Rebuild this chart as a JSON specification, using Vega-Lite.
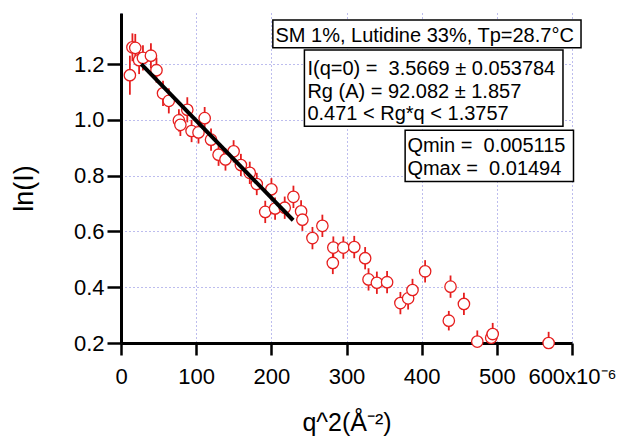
{
  "$schema": "https://vega.github.io/schema/vega-lite/v6.json",
  "width": 451,
  "height": 330,
  "autosize": {"type": "none"},
  "padding": {"left": 121, "top": 13, "right": 65, "bottom": 98},
  "background": "white",
  "config": {"view": {"stroke": null}, "font": "Liberation Sans"},
  "datasets": {
    "pts": [
      {"q2": 11.8, "lnI": 1.160, "err": 0.07},
      {"q2": 15.2, "lnI": 1.260, "err": 0.05},
      {"q2": 19.0, "lnI": 1.258, "err": 0.05},
      {"q2": 24.1, "lnI": 1.214, "err": 0.05},
      {"q2": 29.2, "lnI": 1.222, "err": 0.045},
      {"q2": 39.8, "lnI": 1.230, "err": 0.045},
      {"q2": 47.2, "lnI": 1.178, "err": 0.045},
      {"q2": 55.9, "lnI": 1.095, "err": 0.045},
      {"q2": 63.6, "lnI": 1.068, "err": 0.045},
      {"q2": 77.0, "lnI": 0.998, "err": 0.04},
      {"q2": 79.0, "lnI": 0.982, "err": 0.04},
      {"q2": 88.2, "lnI": 1.036, "err": 0.045},
      {"q2": 93.9, "lnI": 0.960, "err": 0.04},
      {"q2": 103.1, "lnI": 0.955, "err": 0.04},
      {"q2": 111.3, "lnI": 1.006, "err": 0.04},
      {"q2": 119.8, "lnI": 0.929, "err": 0.04},
      {"q2": 129.8, "lnI": 0.875, "err": 0.04},
      {"q2": 139.0, "lnI": 0.858, "err": 0.04},
      {"q2": 149.8, "lnI": 0.887, "err": 0.04},
      {"q2": 159.5, "lnI": 0.838, "err": 0.04},
      {"q2": 171.3, "lnI": 0.810, "err": 0.04},
      {"q2": 180.6, "lnI": 0.770, "err": 0.04},
      {"q2": 200.1, "lnI": 0.751, "err": 0.04},
      {"q2": 191.9, "lnI": 0.670, "err": 0.04},
      {"q2": 205.0, "lnI": 0.682, "err": 0.04},
      {"q2": 217.8, "lnI": 0.685, "err": 0.04},
      {"q2": 229.4, "lnI": 0.724, "err": 0.04},
      {"q2": 239.6, "lnI": 0.672, "err": 0.04},
      {"q2": 241.3, "lnI": 0.642, "err": 0.04},
      {"q2": 254.7, "lnI": 0.576, "err": 0.04},
      {"q2": 267.9, "lnI": 0.620, "err": 0.04},
      {"q2": 282.5, "lnI": 0.542, "err": 0.04},
      {"q2": 281.8, "lnI": 0.487, "err": 0.04},
      {"q2": 295.8, "lnI": 0.542, "err": 0.04},
      {"q2": 310.3, "lnI": 0.544, "err": 0.04},
      {"q2": 324.8, "lnI": 0.504, "err": 0.04},
      {"q2": 329.3, "lnI": 0.428, "err": 0.04},
      {"q2": 340.4, "lnI": 0.416, "err": 0.04},
      {"q2": 354.0, "lnI": 0.418, "err": 0.04},
      {"q2": 371.7, "lnI": 0.343, "err": 0.04},
      {"q2": 382.0, "lnI": 0.360, "err": 0.04},
      {"q2": 387.8, "lnI": 0.390, "err": 0.04},
      {"q2": 404.6, "lnI": 0.457, "err": 0.04},
      {"q2": 438.4, "lnI": 0.402, "err": 0.04},
      {"q2": 456.2, "lnI": 0.340, "err": 0.04},
      {"q2": 436.1, "lnI": 0.280, "err": 0.035},
      {"q2": 474.0, "lnI": 0.205, "err": 0.04},
      {"q2": 492.5, "lnI": 0.219, "err": 0.035},
      {"q2": 494.5, "lnI": 0.232, "err": 0.04},
      {"q2": 568.9, "lnI": 0.200, "err": 0.04}
    ],
    "fit": [
      {"q2": 27.0, "lnI": 1.200},
      {"q2": 229.0, "lnI": 0.640}
    ]
  },
  "layer": [
    {
      "data": {"name": "pts"},
      "transform": [
        {"calculate": "datum.lnI - datum.err", "as": "lo"},
        {"calculate": "datum.lnI + datum.err", "as": "hi"}
      ],
      "mark": {"type": "rule", "color": "#e61e1e", "strokeWidth": 1.8, "clip": true},
      "encoding": {
        "x": {
          "field": "q2", "type": "quantitative",
          "scale": {"domain": [0, 600], "nice": false, "zero": false},
          "axis": {
            "title": "q^2(Å⁻²)",
            "values": [0, 100, 200, 300, 400, 500, 600],
            "format": "d",
            "labelExpr": "datum.value == 600 ? '600x10⁻⁶' : datum.label",
            "labelFlush": false,
            "labelOverlap": false,
            "labelFontSize": 22,
            "labelColor": "black",
            "labelPadding": 11,
            "tickSize": 12,
            "tickWidth": 2.5,
            "tickColor": "black",
            "domainColor": "black",
            "domainWidth": 3,
            "grid": true,
            "gridColor": "#7b7bdc",
            "gridDash": [1, 3],
            "gridWidth": 1,
            "titleFontSize": 25,
            "titleFontWeight": "normal",
            "titleColor": "black",
            "titleY": 87,
            "titleBaseline": "alphabetic"
          }
        },
        "y": {
          "field": "lo", "type": "quantitative",
          "scale": {"domain": [0.2, 1.383], "nice": false, "zero": false},
          "axis": {
            "title": "ln(I)",
            "values": [0.2, 0.4, 0.6, 0.8, 1.0, 1.2],
            "format": ".1f",
            "labelFontSize": 22,
            "labelColor": "black",
            "labelPadding": 3,
            "tickSize": 14,
            "tickWidth": 2.5,
            "tickColor": "black",
            "domainColor": "black",
            "domainWidth": 3,
            "grid": true,
            "gridColor": "#7b7bdc",
            "gridDash": [1, 3],
            "gridWidth": 1,
            "titleFontSize": 27,
            "titleFontWeight": "normal",
            "titleColor": "black",
            "titleAngle": -90,
            "titleX": -97,
            "titleY": 175,
            "titleAlign": "center",
            "titleBaseline": "middle"
          }
        },
        "y2": {"field": "hi"}
      }
    },
    {
      "data": {"name": "pts"},
      "mark": {"type": "point", "shape": "circle", "filled": true, "fill": "white", "stroke": "#e61e1e", "strokeWidth": 1.3, "size": 130, "opacity": 1},
      "encoding": {
        "x": {"field": "q2", "type": "quantitative"},
        "y": {"field": "lnI", "type": "quantitative"}
      }
    },
    {
      "data": {"name": "fit"},
      "mark": {"type": "line", "color": "black", "strokeWidth": 4},
      "encoding": {
        "x": {"field": "q2", "type": "quantitative"},
        "y": {"field": "lnI", "type": "quantitative"}
      }
    },
    {
      "data": {"values": [{}]},
      "mark": {"type": "rect", "fill": "white", "stroke": "black", "strokeWidth": 1.5},
      "encoding": {
        "x": {"datum": 202}, "x2": {"datum": 612},
        "y": {"datum": 1.358}, "y2": {"datum": 1.258}
      }
    },
    {
      "data": {"values": [{}]},
      "mark": {"type": "rect", "fill": "white", "stroke": "black", "strokeWidth": 1.5},
      "encoding": {
        "x": {"datum": 244}, "x2": {"datum": 588},
        "y": {"datum": 1.250}, "y2": {"datum": 0.977}
      }
    },
    {
      "data": {"values": [{}]},
      "mark": {"type": "rect", "fill": "white", "stroke": "black", "strokeWidth": 1.5},
      "encoding": {
        "x": {"datum": 378}, "x2": {"datum": 602},
        "y": {"datum": 0.963}, "y2": {"datum": 0.779}
      }
    },
    {
      "data": {"values": [{}]},
      "mark": {"type": "text", "align": "left", "baseline": "alphabetic", "fontSize": 20, "color": "black"},
      "encoding": {"x": {"datum": 205.5}, "y": {"datum": 1.279}, "text": {"value": "SM 1%, Lutidine 33%, Tp=28.7°C"}}
    },
    {
      "data": {"values": [{}]},
      "mark": {"type": "text", "align": "left", "baseline": "alphabetic", "fontSize": 20, "color": "black"},
      "encoding": {"x": {"datum": 248}, "y": {"datum": 1.160}, "text": {"value": "I(q=0) =\u00a0 3.5669 ± 0.053784"}}
    },
    {
      "data": {"values": [{}]},
      "mark": {"type": "text", "align": "left", "baseline": "alphabetic", "fontSize": 20, "color": "black"},
      "encoding": {"x": {"datum": 248}, "y": {"datum": 1.078}, "text": {"value": "Rg (A) = 92.082 ± 1.857"}}
    },
    {
      "data": {"values": [{}]},
      "mark": {"type": "text", "align": "left", "baseline": "alphabetic", "fontSize": 20, "color": "black"},
      "encoding": {"x": {"datum": 248}, "y": {"datum": 0.999}, "text": {"value": "0.471 < Rg*q < 1.3757"}}
    },
    {
      "data": {"values": [{}]},
      "mark": {"type": "text", "align": "left", "baseline": "alphabetic", "fontSize": 20, "color": "black"},
      "encoding": {"x": {"datum": 381}, "y": {"datum": 0.883}, "text": {"value": "Qmin =\u00a0 0.005115"}}
    },
    {
      "data": {"values": [{}]},
      "mark": {"type": "text", "align": "left", "baseline": "alphabetic", "fontSize": 20, "color": "black"},
      "encoding": {"x": {"datum": 381}, "y": {"datum": 0.801}, "text": {"value": "Qmax =\u00a0 0.01494"}}
    }
  ]
}
